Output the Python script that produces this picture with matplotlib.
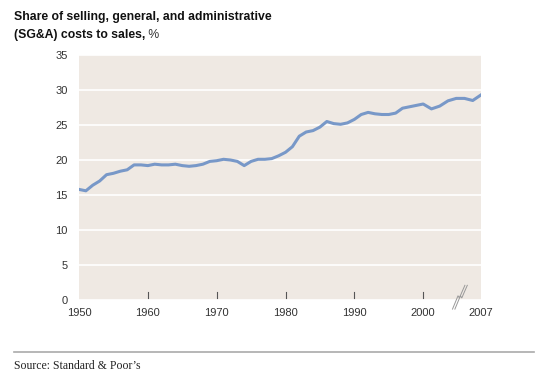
import matplotlib.pyplot as plt
import numpy as np

plt.rcParams['font.family'] = ['Liberation Sans Narrow', 'Liberation Sans', 'DejaVu Sans']

years = list(range(1950, 2008))
sga_share = [15.8, 15.6, 16.4, 17.0, 17.9, 18.1, 18.4, 18.6, 19.3, 19.3,
             19.2, 19.4, 19.3, 19.3, 19.4, 19.2, 19.1, 19.2, 19.4, 19.8,
             19.9, 20.1, 20.0, 19.8, 19.2, 19.8, 20.1, 20.1, 20.2, 20.6,
             21.1, 21.9, 23.4, 24.0, 24.2, 24.7, 25.5, 25.2, 25.1, 25.3,
             25.8, 26.5, 26.8, 26.6, 26.5, 26.5, 26.7, 27.4, 27.6, 27.8,
             28.0, 27.3, 27.7, 28.45, 28.8, 28.8, 28.5, 29.3]
year_ticks = [1950, 1960, 1970, 1980, 1990, 2000, 2007]


# axis is broken after 2000: the last stretch is drawn a bit wider
def year_pos(y):
    y = np.asarray(y, dtype=float)
    return np.where(y <= 2000, y, 2000 + (y - 2000) * 8.4 / 7)


fig = plt.figure(figsize=(5.45, 3.9), dpi=100)
ax = fig.add_axes([79 / 545, 1 - 300 / 390, 402 / 545, 245 / 390])
ax.set_facecolor('#efe9e3')

ax.plot(year_pos(years), sga_share, color='#7898c8', lw=2.2, solid_joinstyle='round', zorder=3)

ax.set_xlim(1950, float(year_pos(2007)))
ax.set_ylim(0, 35)
ax.set_yticks(range(0, 36, 5))
ax.yaxis.grid(True, color='white', lw=1.2)
ax.set_axisbelow(True)
for s in ax.spines.values():
    s.set_visible(False)

ax.set_xticks(year_pos(year_ticks))
ax.set_xticklabels([str(y) for y in year_ticks])
ax.tick_params(axis='x', length=0, pad=6, labelsize=8, colors='#333333')
ax.tick_params(axis='y', length=0, pad=8, labelsize=8, colors='#333333')

# small tick marks inside the plot area
for y in year_ticks[1:-1]:
    ax.plot([year_pos(y)] * 2, [0.3, 1.2], color='#555555', lw=0.8, zorder=2)

# break symbol
bx = float(year_pos(2004.3))
for dx in (0, 0.35):
    ax.plot([bx - 0.9 + dx, bx - 0.1 + dx, bx + 0.1 + dx, bx + 0.9 + dx],
            [-1.3, 0.6, 0.3, 2.1], color='#999999', lw=0.7, clip_on=False, zorder=4)

fig.text(14 / 545, 1 - 11 / 390, 'Share of selling, general, and administrative',
         fontsize=8.8, fontweight='bold', va='top', color='#111111')
t2 = fig.text(14 / 545, 1 - 29 / 390, '(SG&A) costs to sales,',
              fontsize=8.8, fontweight='bold', va='top', color='#111111')
fig.canvas.draw()
ax.annotate(' %', xy=(1, 0), xycoords=t2, va='bottom', fontsize=8.8, color='#333333')

fig.add_artist(plt.Line2D([14 / 545, 534 / 545], [1 - 352 / 390] * 2,
                          color='#aaaaaa', lw=1.2))
fig.text(14 / 545, 1 - 366 / 390, "Source: Standard & Poor’s", family='Liberation Serif',
         fontsize=8.5, va='center', color='#222222')

fig.savefig('out.png', dpi=100)
